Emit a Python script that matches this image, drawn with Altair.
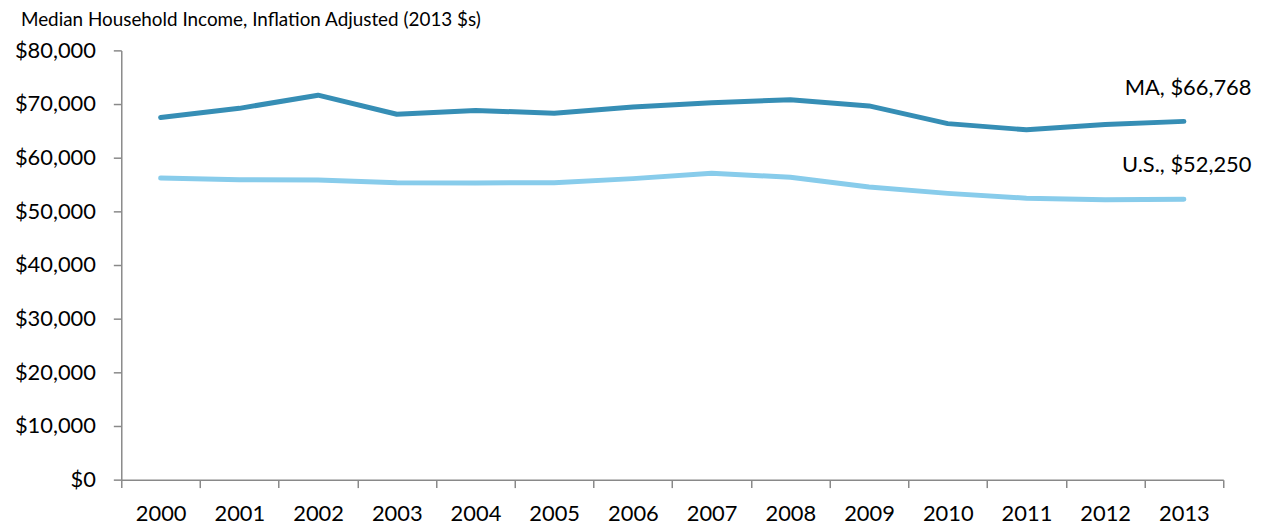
import altair as alt
import pandas as pd

years = ["2000", "2001", "2002", "2003", "2004", "2005", "2006",
         "2007", "2008", "2009", "2010", "2011", "2012", "2013"]
ma_income = [67500, 69200, 71650, 68100, 68800, 68300, 69450,
             70250, 70800, 69650, 66350, 65200, 66200, 66768]
us_income = [56200, 55900, 55850, 55350, 55300, 55350, 56100,
             57100, 56350, 54550, 53350, 52450, 52150, 52250]
series_names = ["MA", "U.S."]
series_colors = ["#368EB5", "#88CCEB"]
end_labels = ["MA, $66,768", "U.S., $52,250"]

rows = []
for y, v in zip(years, ma_income):
    rows.append({"year": y, "series": "MA", "income": v})
for y, v in zip(years, us_income):
    rows.append({"year": y, "series": "U.S.", "income": v})
df = pd.DataFrame(rows)

lab = pd.DataFrame({
    "year": [years[-1], years[-1]],
    "series": series_names,
    "income": [ma_income[-1], us_income[-1]],
    "label": end_labels,
})

FONT = "Lato"

x_enc = alt.X(
    "year:O",
    scale=alt.Scale(type="band", paddingInner=0, paddingOuter=0),
    axis=alt.Axis(
        title=None, labelAngle=0, tickBand="extent", labelFontSize=22,
        labelFont=FONT, labelColor="#000000", domainColor="#898989",
        tickColor="#898989", domainWidth=1.5, tickWidth=1.5, tickSize=8,
        labelPadding=16,
    ),
)
y_enc = alt.Y(
    "income:Q",
    scale=alt.Scale(domain=[0, 80000], nice=False),
    axis=alt.Axis(
        title=None, values=list(range(0, 80001, 10000)), format="$,.0f",
        labelFontSize=22, labelFont=FONT, labelColor="#000000",
        domainColor="#898989", tickColor="#898989", domainWidth=1.5,
        tickWidth=1.5, tickSize=8, labelPadding=18, grid=False,
    ),
)

color = alt.Color("series:N", scale=alt.Scale(domain=series_names, range=series_colors), legend=None)

lines = alt.Chart(df).mark_line(strokeWidth=5, strokeCap="round", strokeJoin="round").encode(
    x=x_enc, y=y_enc, color=color
)

texts = alt.Chart(lab).mark_text(
    align="right", baseline="middle", dx=68, dy=-34, fontSize=22, font=FONT, color="#000000"
).encode(
    x=alt.X("year:O"), y=alt.Y("income:Q"), text="label:N"
)

chart = alt.layer(lines, texts).properties(
    width=1109,
    height=432,
    padding={"left": 114, "top": 41, "right": 40, "bottom": 45},
    autosize=alt.AutoSizeParams(type="none"),
    title=alt.TitleParams(
        "Median Household Income, Inflation Adjusted (2013 $s)",
        anchor="start", frame="group", dx=-101, offset=10,
        fontSize=19, font=FONT, fontWeight="normal", color="#000000",
    ),
).configure_view(stroke=None)

chart.save("out.html", embed_options={"renderer": "svg", "actions": False})
